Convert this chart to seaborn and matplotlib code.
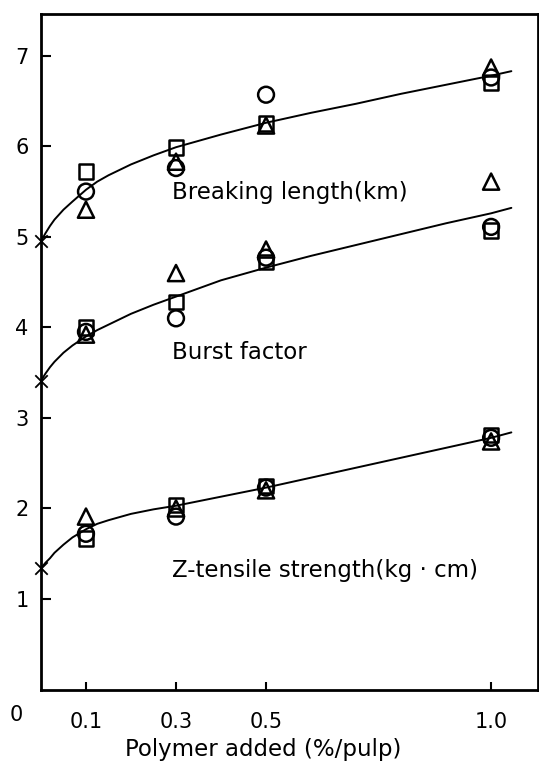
import matplotlib
matplotlib.use("Agg")
import matplotlib.pyplot as plt
import numpy as np
import pandas as pd
import seaborn as sns

# Datos
x_pts = [0.1, 0.3, 0.5, 1.0]
control = [4.95, 3.41, 1.34]   # valores sin polimero (x = 0)

bl_square = [5.72, 5.99, 6.25, 6.70]
bl_circle = [5.50, 5.76, 6.57, 6.76]
bl_triangle = [5.30, 5.83, 6.23, 6.87]

bf_square = [4.00, 4.28, 4.72, 5.07]
bf_circle = [3.95, 4.10, 4.77, 5.11]
bf_triangle = [3.92, 4.60, 4.86, 5.61]

zt_square = [1.67, 2.04, 2.25, 2.81]
zt_circle = [1.72, 1.91, 2.23, 2.78]
zt_triangle = [1.91, 2.00, 2.20, 2.74]

# Curvas ajustadas (leidas punto a punto)
curve_x = [0, 0.01, 0.02, 0.03, 0.05, 0.07, 0.1, 0.125, 0.15, 0.2, 0.25, 0.3, 0.4, 0.5,
           0.6, 0.7, 0.8, 0.9, 1.0, 1.045]
bl_curve = [4.95, 5.04, 5.12, 5.19, 5.30, 5.39, 5.52, 5.61, 5.68, 5.80, 5.90, 5.99, 6.13, 6.26,
            6.37, 6.47, 6.58, 6.68, 6.78, 6.83]
bf_curve = [3.41, 3.49, 3.56, 3.62, 3.72, 3.80, 3.90, 3.97, 4.03, 4.15, 4.25, 4.34, 4.52, 4.66,
            4.79, 4.91, 5.03, 5.15, 5.26, 5.32]
zt_curve = [1.34, 1.40, 1.45, 1.51, 1.60, 1.68, 1.77, 1.83, 1.87, 1.94, 1.99, 2.03, 2.13, 2.23,
            2.34, 2.45, 2.56, 2.67, 2.78, 2.84]

labels = ["Breaking length(km)", "Burst factor", "Z-tensile strength(kg · cm)"]
label_pos = [(0.29, 5.49), (0.29, 3.72), (0.29, 1.32)]

xticks = [0.1, 0.3, 0.5, 1.0]
xtick_labels = ["0.1", "0.3", "0.5", "1.0"]
yticks = [1, 2, 3, 4, 5, 6, 7]

sns.set_style("white")
plt.rcParams['font.family'] = ['DejaVu Sans']
plt.rcParams['text.color'] = 'black'
plt.rcParams['axes.labelcolor'] = 'black'
plt.rcParams['xtick.color'] = 'black'
plt.rcParams['ytick.color'] = 'black'

fig = plt.figure(figsize=(5.39, 7.64), dpi=100)
ax = fig.add_axes([0.076, 0.0975, 0.922, 0.884])

curvas = [bl_curve, bf_curve, zt_curve]
for c in curvas:
    sns.lineplot(x=curve_x, y=c, ax=ax, color='black', linewidth=1.4, sort=False)

series = [
    (bl_square, bl_circle, bl_triangle),
    (bf_square, bf_circle, bf_triangle),
    (zt_square, zt_circle, zt_triangle),
]
for sq, ci, tr in series:
    sns.scatterplot(x=x_pts, y=sq, ax=ax, marker='s', s=110, color='black',
                    facecolor='none', edgecolor='black', linewidth=1.8, zorder=3)
    sns.scatterplot(x=x_pts, y=tr, ax=ax, marker='^', s=135, color='black',
                    facecolor='none', edgecolor='black', linewidth=1.8, zorder=3)
    sns.scatterplot(x=x_pts, y=ci, ax=ax, marker='o', s=130, color='black',
                    facecolor='none', edgecolor='black', linewidth=1.8, zorder=4)

sns.scatterplot(x=[0] * len(control), y=control, ax=ax, marker='x', s=80,
                color='black', linewidth=1.3, zorder=5, clip_on=False)

for txt, (tx, ty) in zip(labels, label_pos):
    ax.text(tx, ty, txt, fontsize=16.5, va='center', ha='left')

ax.set_xlim(0, 1.104)
ax.set_ylim(0, 7.46)
ax.set_xticks(xticks)
ax.set_xticklabels(xtick_labels)
ax.set_yticks(yticks)
ax.tick_params(axis='y', left=True, direction='in', length=7, width=1.5, pad=9, labelsize=15)
ax.tick_params(axis='x', bottom=True, direction='in', length=6, width=1.5, pad=16, labelsize=15)

for sp in ax.spines.values():
    sp.set_visible(True)
    sp.set_linewidth(2)
    sp.set_color('black')

ax.text(-0.055, -0.28, "0", fontsize=15, ha='center', va='center', clip_on=False)

ax.set_xlabel("Polymer added (%/pulp)", fontsize=16.5)
ax.xaxis.set_label_coords(0.447, -0.072)
ax.set_ylabel("")

fig.savefig("out.png", dpi=100)
